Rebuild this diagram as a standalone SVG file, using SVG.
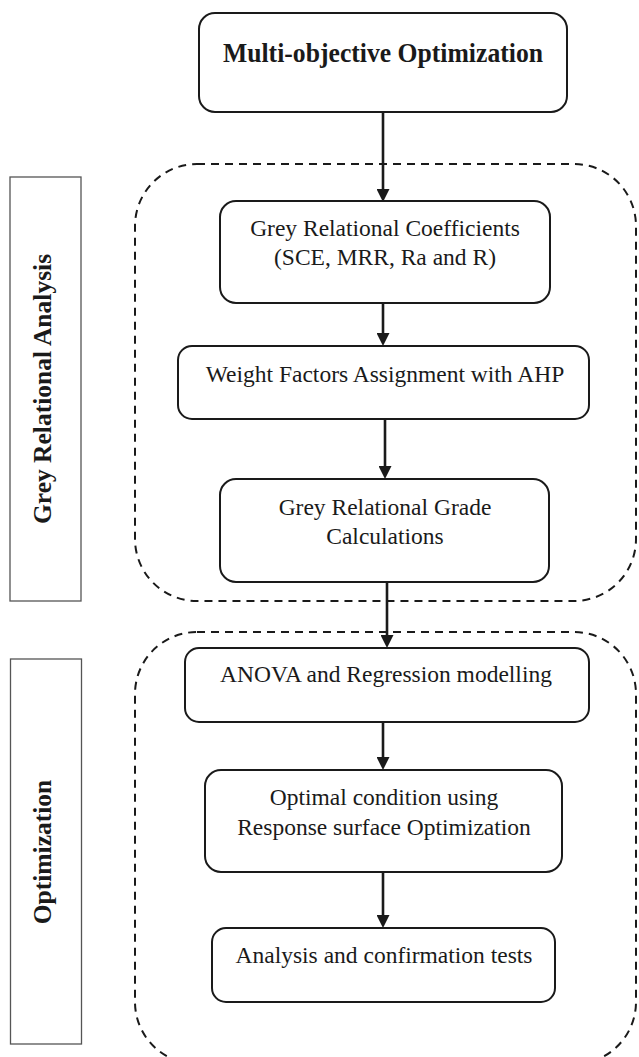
<svg xmlns="http://www.w3.org/2000/svg" width="639" height="1057" viewBox="0 0 639 1057">
<style>
.node{fill:#fff;stroke:#1a1a1a;stroke-width:2}
.region{fill:none;stroke:#1a1a1a;stroke-width:2;stroke-dasharray:8 6}
.label{fill:#fff;stroke:#555;stroke-width:1.3}
.t{font-family:"Liberation Serif","Times New Roman",serif;font-size:23.5px;fill:#1a1a1a;text-anchor:middle}
.tb{font-family:"Liberation Serif","Times New Roman",serif;font-weight:bold;fill:#1a1a1a;text-anchor:middle}
.conn{stroke:#1a1a1a;stroke-width:2.6;fill:none;marker-end:url(#ah)}
</style>
<defs>
<marker id="ah" markerUnits="userSpaceOnUse" markerWidth="13" markerHeight="13" refX="6" refY="6.5" orient="auto">
<path d="M0,0 L13,6.5 L0,13 Z" fill="#1a1a1a"/>
</marker>
</defs>
<rect width="639" height="1057" fill="#fff"/>

<g id="region-gra"><rect class="region" x="135" y="164" width="501" height="437" rx="62" ry="62"/></g>
<g id="region-opt"><rect class="region" x="135" y="632" width="501" height="432" rx="62" ry="62"/></g>

<g id="label-gra">
<rect class="label" x="10" y="177" width="71" height="424"/>
<text class="tb" font-size="25.5" transform="translate(51,389) rotate(-90)">Grey Relational Analysis</text>
</g>
<g id="label-opt">
<rect class="label" x="10.5" y="659" width="71" height="385"/>
<text class="tb" font-size="25.5" transform="translate(51,852) rotate(-90)">Optimization</text>
</g>

<g id="connectors">
<line class="conn" x1="383" y1="112" x2="383" y2="195"/>
<line class="conn" x1="383" y1="303" x2="383" y2="339"/>
<line class="conn" x1="385" y1="419" x2="385" y2="472"/>
<line class="conn" x1="387" y1="582" x2="387" y2="641"/>
<line class="conn" x1="383" y1="722" x2="383" y2="763"/>
<line class="conn" x1="383" y1="872" x2="383" y2="921"/>
</g>

<g id="n-multi">
<rect class="node" x="199" y="13" width="368" height="99" rx="16"/>
<text class="tb" font-size="27" x="383" y="62" textLength="320" lengthAdjust="spacingAndGlyphs">Multi-objective Optimization</text>
</g>
<g id="n-grc">
<rect class="node" x="220" y="201" width="330" height="102" rx="16"/>
<text class="t" x="385" y="236">Grey Relational Coefficients</text>
<text class="t" x="385" y="265">(SCE, MRR, Ra and R)</text>
</g>
<g id="n-weight">
<rect class="node" x="178" y="346" width="411" height="73" rx="14"/>
<text class="t" x="385" y="382">Weight Factors Assignment with AHP</text>
</g>
<g id="n-grade">
<rect class="node" x="220" y="479" width="329" height="103" rx="16"/>
<text class="t" x="385" y="515">Grey Relational Grade</text>
<text class="t" x="385" y="544">Calculations</text>
</g>
<g id="n-anova">
<rect class="node" x="185" y="648" width="404" height="74" rx="14"/>
<text class="t" x="386" y="682">ANOVA and Regression modelling</text>
</g>
<g id="n-optimal">
<rect class="node" x="205" y="770" width="357" height="102" rx="16"/>
<text class="t" x="384" y="805">Optimal condition using</text>
<text class="t" x="384" y="835">Response surface Optimization</text>
</g>
<g id="n-analysis">
<rect class="node" x="212" y="928" width="343" height="74" rx="14"/>
<text class="t" x="384" y="963">Analysis and confirmation tests</text>
</g>
</svg>
